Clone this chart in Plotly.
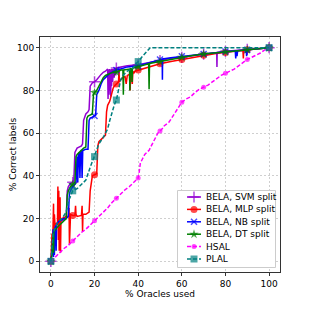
import plotly.graph_objects as go

# ---------------- data ----------------
svm_x = [0,0.5,1,1.5,2,3,5,7,7.5,8,9,10,10.5,11,12,14,14.5,15,16,17,17.5,18,19,20,21,22,23,24,25,26,26.2,26.4,26.6,26.8,27,27.2,27.4,27.6,27.8,28,28.3,28.6,29,29.3,29.7,30,32,35,40,45,50,55,60,65,70,75,76,76.1,76.2,80,85,90,95,100]
svm_y = [0,5,14,16,17,18,19,20,33,35,36.5,37,38,51,53,54,55,66,69,70,71,82,83.5,84,85,86.5,87.5,88.5,89,90,76,89.5,78,90,80,89.5,77,90,82,90,84,90,86,90.5,87,90.5,91,91.5,92,93,94,95,95.5,96.3,97,97.6,97.7,91,97.8,98.3,98.7,99.2,99.6,100]

mlp_x = [0,0.3,0.5,0.7,1,1.2,1.4,1.6,2,2.5,3,3.2,3.4,3.6,3.8,4,4.2,4.4,4.6,5,6,7,8,8.3,8.5,8.7,9,10,11,11.3,11.5,12,14,14.3,14.5,14.7,16,17,17.5,18,18.5,19,20,21,21.5,22,24,25,25.5,26,27,28,28.5,29,30,31,31.2,31.4,32,33,34,34.5,35,36,36.3,36.6,37,37.3,37.6,38,38.5,40,45,50,55,60,65,70,75,80,85,88,88.2,88.4,90,95,100]
mlp_y = [0,5,13,3,12,27,8,22,15,18,17,35,10,33,5,20,30,4,19,20,20.5,21,21,25,8,22,22,21.5,21.5,26,22,21,21.5,26,14,22,22,22.5,23,33,38,40,40.5,41,54,56,58,59,70,73,75,80,81,82,83,84,90,84,85,86,86.5,83,87,87.5,80,88,88,83,89,88,89,89.5,91,92.5,93.5,94.5,95.5,96.5,97.2,97.8,98.4,98.7,95,98.8,99,99.5,100]

nb_x = [0,0.5,1,1.2,1.4,1.6,1.8,2,2.2,2.4,2.6,3,4,5,6,7,8,8.5,9,10,11,11.5,12,12.3,12.6,13,13.3,13.6,14,14.3,14.6,15,16,17,17.5,18,19,20,20.5,21,22,23,24,25,26,27,28,29,30,32,35,40,45,50,51,51.1,51.2,55,60,65,70,75,80,84.5,84.7,85,85.3,85.6,88,89.5,89.7,90,95,100]
nb_y = [0,4,15,2,14,3,16,10,17,5,17,18,19,19.5,20,20,21,32,33,35,36,37,49,37,50,51,39,51.5,52,39,52,52,52.5,52.5,66,67,67.5,68,68.5,78,80,83,85,86,87,88,88.5,89,89.5,90,91,91.5,93,94.5,94.6,85,94.7,95.3,96,96.5,97,97.6,98.2,98.5,95,98.6,96,98.6,98.8,99,96,99,99.5,100]

dt_x = [0,0.5,1,1.2,1.4,2,3,4,5,6,7,7.5,8,9,10,11,11.5,12,13,14,15,16,16.5,17,18,19,19.5,20,21,22,23,24,25,26,27,28,29,30,31,32,33,33.2,33.4,35,36,36.2,36.4,37,37.2,37.4,40,44.8,45,45.2,50,55,60,65,70,75,80,85,90,95,100]
dt_y = [0,3,13,4,14,15,16,17,18,19,20,31,33,35,36,37,49,50,51,52,53,53.5,67,68,68.5,69,78,79,80,82,84,86,87,87.5,88,88.3,88.5,88.5,89,89.5,89.5,78,89.6,90,90,80,90.2,90,84,90.3,91,92.5,80.5,92.6,93.5,94.5,95.5,96.3,97,97.5,98,98.5,99,99.5,100]

hsal_x = [0,2,4,6,8,10,12,14,16,18,20,22,24,26,28,30,32,34,36,38,40,40.5,41,42,43,44,45,46,47,48,49,50,51,52,54,55,56,58,60,62,64,66,68,70,72,74,76,78,80,82,84,86,88,90,92,94,96,98,100]
hsal_y = [0,2,4,6,7.5,9.5,11.5,13.5,15,17,19,21,23,25,27.5,29.5,31.5,33.5,35,37,39,42,46,48,50,51,52,54,56,58,60,61,62,63.5,65,66.5,68,71,74.5,76,77,79,80.5,81.5,82.5,84,85.5,87,88,89,90,91.5,93,94.5,95.5,96.5,97.5,99,100]

plal_x = [0,0.5,1,2,3,5,7,8,9,10,12,14,16,18,19,20,21,22,24,26,27,28,29,30,31,32,33,35,37,38,39,40,42,44,45.5,100]
plal_y = [0,8,13,16,18,20,23,28,31,33,34,36,38,44,47,49,52,55,58,62,66,70,73,75.5,80,85,87,89,90,91,92.5,93.5,96,98.5,100,100]

series_names = ["BELA, SVM split", "BELA, MLP split", "BELA, NB split", "BELA, DT split", "HSAL", "PLAL"]
x_ticks = [0, 20, 40, 60, 80, 100]
y_ticks = [0, 20, 40, 60, 80, 100]

# ---------------- styles ----------------
styles = [
    (svm_x, svm_y, "#9400D3", "cross-thin", "solid", 8),
    (mlp_x, mlp_y, "#FF0000", "circle", "solid", 7),
    (nb_x, nb_y, "#0000FF", "x-thin", "solid", 6),
    (dt_x, dt_y, "#008000", "star", "solid", 7),
    (hsal_x, hsal_y, "#FF00FF", "circle", "dash", 5),
    (plal_x, plal_y, "#008080", "square", "dash", 7),
]
dash_pat = "4px,2px"

fig = go.Figure()
for name, (xs, ys, col, sym, dash, msz) in zip(series_names, styles):
    sizes = [msz if (abs(x - round(x)) < 1e-9 and int(round(x)) % 10 == 0) else 0 for x in xs]
    fig.add_trace(go.Scatter(
        x=xs, y=ys, name=name, mode="lines+markers", showlegend=False,
        line=dict(color=col, width=1.5, dash=(dash_pat if dash == "dash" else "solid")),
        marker=dict(symbol=sym, size=sizes, color=col,
                    line=dict(color=col, width=1.5 if "thin" in sym else 0)),
    ))

# ---------------- page offset (body margin of 8px in the html page) ----------------
OFF = 8
W = H = 312 - OFF
PL, PR, PT, PB = 40 - OFF, 32, 37 - OFF, 40   # plot area: screen x 40..280, y 37..272
plot_w = W - PL - PR
plot_h = H - PT - PB

# ---------------- hand-built compact legend (overlay axis, pixel-like units) ----------------
LX0, LX1, LY0, LY1 = 177, 276, 190, 268   # legend box in screen px
LW, LH = LX1 - LX0, LY1 - LY0
row0, rowstep = 7, 12.4
for i, (name, (xs, ys, col, sym, dash, msz)) in enumerate(zip(series_names, styles)):
    yy = row0 + rowstep * i
    fig.add_trace(go.Scatter(
        x=[10, 17, 24], y=[yy, yy, yy], mode="lines+markers", xaxis="x2", yaxis="y2",
        showlegend=False, hoverinfo="skip",
        line=dict(color=col, width=1.5, dash=(dash_pat if dash == "dash" else "solid")),
        marker=dict(symbol=sym, size=[0, msz, 0], color=col,
                    line=dict(color=col, width=1.5 if "thin" in sym else 0)),
    ))
    fig.add_annotation(x=27, y=yy, xref="x2", yref="y2", text=name, showarrow=False,
                       xanchor="left", yanchor="middle", font=dict(size=9, color="black"))
fig.add_shape(type="rect", xref="x2", yref="y2", x0=0.5, x1=LW - 0.5, y0=0.5, y1=LH - 0.5,
              line=dict(color="#cccccc", width=1), fillcolor="rgba(255,255,255,0.85)",
              layer="below")

axis_common = dict(
    showline=True, linecolor="#333333", linewidth=1, mirror=True,
    ticks="outside", ticklen=3, tickcolor="#333333",
    showgrid=True, gridcolor="#cfcfcf", griddash="2px,2px", gridwidth=1,
    zeroline=False, tickfont=dict(size=9, color="black"), automargin=False,
)
sx0 = 40  # screen x of plot left
sy1 = 272  # screen y of plot bottom
fig.update_layout(
    xaxis=dict(range=[-5, 105], tickvals=x_ticks,
               title=dict(text="% Oracles used", font=dict(size=9, color="black"), standoff=2),
               **axis_common),
    yaxis=dict(range=[-5, 105], tickvals=y_ticks,
               title=dict(text="% Correct labels", font=dict(size=9, color="black"), standoff=6),
               **axis_common),
    xaxis2=dict(domain=[(LX0 - sx0) / plot_w, (LX1 - sx0) / plot_w], range=[0, LW],
                visible=False, anchor="y2", fixedrange=True),
    yaxis2=dict(domain=[(sy1 - LY1) / plot_h, (sy1 - LY0) / plot_h], range=[LH, 0],
                visible=False, anchor="x2", fixedrange=True),
    width=W, height=H,
    margin=dict(l=PL, r=PR, t=PT, b=PB),
    paper_bgcolor="white", plot_bgcolor="white",
    font=dict(family="DejaVu Sans", size=9, color="black"),
    showlegend=False,
)

fig.write_html("out.html")
